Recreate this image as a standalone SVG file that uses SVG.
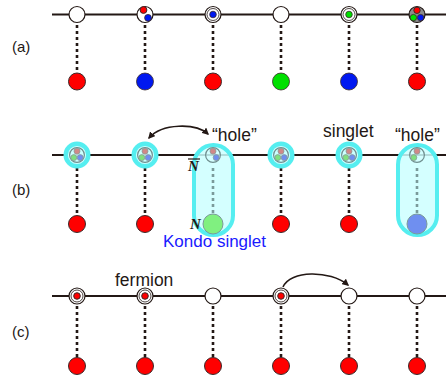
<svg xmlns="http://www.w3.org/2000/svg" width="446" height="378" viewBox="0 0 446 378">
<defs>
<style>
.ln{stroke:#231815;stroke-width:2;fill:none}
.dash{stroke:#231815;stroke-width:2.6;stroke-dasharray:3 3;fill:none}
.dashg{stroke:#7a9a9a;stroke-width:2.6;stroke-dasharray:3 3;fill:none}
.site{fill:#fff;stroke:#231815;stroke-width:1.2}
.ring{fill:none;stroke:#231815;stroke-width:0.8}
.red{fill:#f00;stroke:#3a2a2a;stroke-width:1}
.blue{fill:#0018f0;stroke:#3a2a2a;stroke-width:0.8}
.green{fill:#00e000;stroke:#3a2a2a;stroke-width:0.8}
.halo{fill:#ccffff;stroke:#55eef0;stroke-width:4.4}
.pill{fill:#ccffff;fill-opacity:0.85;stroke:#55eef0;stroke-width:4}
.gring{fill:none;stroke:#6f8f8f;stroke-width:1.2}
.pr{fill:#d08888;stroke:#8a9a9a;stroke-width:0.8}
.pg{fill:#80e080;stroke:#8a9a9a;stroke-width:0.8}
.pb{fill:#6f8ff0;stroke:#8a9a9a;stroke-width:0.8}
.t{font-family:"Liberation Sans","Noto Sans",sans-serif;font-size:15px;fill:#231815}
.lb{font-family:"Liberation Sans","Noto Sans",sans-serif;font-size:17.5px;fill:#231815}
.n{font-family:"Liberation Serif",serif;font-size:15px;font-weight:bold;font-style:italic;fill:#231815}
.arr{stroke:#231815;stroke-width:1.6;fill:none}
</style>
<marker id="ah" viewBox="0 0 10 10" refX="8" refY="5" markerWidth="7" markerHeight="7" orient="auto-start-reverse" markerUnits="userSpaceOnUse">
<path d="M0,0 L10,5 L0,10 z" fill="#231815"/>
</marker>
</defs>

<!-- row labels -->
<text class="t" x="12" y="52">(a)</text>
<text class="t" x="12" y="195">(b)</text>
<text class="t" x="12" y="337">(c)</text>

<!-- connectors -->
<g id="connectors">
<line class="ln" x1="52" y1="14.5" x2="446" y2="14.5"/>
<line class="ln" x1="52" y1="155" x2="446" y2="155"/>
<line class="ln" x1="52" y1="296" x2="446" y2="296"/>
<g>
<line class="dash" x1="77" y1="25" x2="77" y2="73"/>
<line class="dash" x1="145" y1="25" x2="145" y2="73"/>
<line class="dash" x1="213" y1="25" x2="213" y2="73"/>
<line class="dash" x1="281" y1="25" x2="281" y2="73"/>
<line class="dash" x1="349" y1="25" x2="349" y2="73"/>
<line class="dash" x1="417" y1="25" x2="417" y2="73"/>
</g>
<g>
<line class="dash" x1="77" y1="168" x2="77" y2="215"/>
<line class="dash" x1="145" y1="168" x2="145" y2="215"/>
<line class="dash" x1="281" y1="168" x2="281" y2="215"/>
<line class="dash" x1="349" y1="168" x2="349" y2="215"/>
</g>
<g>
<line class="dash" x1="77" y1="306" x2="77" y2="357"/>
<line class="dash" x1="145" y1="306" x2="145" y2="357"/>
<line class="dash" x1="213" y1="306" x2="213" y2="357"/>
<line class="dash" x1="281" y1="306" x2="281" y2="357"/>
<line class="dash" x1="349" y1="306" x2="349" y2="357"/>
<line class="dash" x1="417" y1="306" x2="417" y2="357"/>
</g>
</g>

<!-- row (a) -->
<g id="a1"><circle class="site" cx="77" cy="14.5" r="8"/><circle class="red" cx="77" cy="81.5" r="8.5"/></g>
<g id="a2"><circle class="site" cx="145" cy="14.5" r="8"/><circle class="red" cx="143.5" cy="10" r="3.4"/><circle class="blue" cx="148" cy="17.8" r="3.4"/><circle class="blue" cx="145" cy="81.5" r="8.5"/></g>
<g id="a3"><circle class="site" cx="213" cy="14.5" r="8"/><circle class="ring" cx="213" cy="14.5" r="6"/><circle class="blue" cx="213" cy="14.5" r="3.3"/><circle class="red" cx="213" cy="81.5" r="8.5"/></g>
<g id="a4"><circle class="site" cx="281" cy="14.5" r="8"/><circle class="green" cx="281" cy="81.5" r="8.5"/></g>
<g id="a5"><circle class="site" cx="349" cy="14.5" r="8"/><circle class="ring" cx="349" cy="14.5" r="6"/><circle class="green" cx="349" cy="14.5" r="3.3"/><circle class="blue" cx="349" cy="81.5" r="8.5"/></g>
<g id="a6"><circle cx="417" cy="14.5" r="8" fill="#8c8c8c" stroke="#231815" stroke-width="1.2"/><circle class="red" cx="417" cy="10.3" r="3.2"/><circle class="green" cx="413.4" cy="17.6" r="3.2"/><circle class="blue" cx="420.6" cy="17.6" r="3.2"/><circle class="red" cx="417" cy="81.5" r="8.5"/></g>

<!-- row (b) -->
<g id="b1"><circle class="halo" cx="77" cy="155" r="11.3"/><circle class="gring" cx="77" cy="155" r="7.4"/><circle class="pr" cx="77" cy="151.2" r="3"/><circle class="pg" cx="73.8" cy="157.6" r="3"/><circle class="pb" cx="80.2" cy="157.6" r="3"/><circle class="red" cx="77" cy="224" r="8.5"/></g>
<g id="b2"><circle class="halo" cx="145" cy="155" r="11.3"/><circle class="gring" cx="145" cy="155" r="7.4"/><circle class="pr" cx="145" cy="151.2" r="3"/><circle class="pg" cx="141.8" cy="157.6" r="3"/><circle class="pb" cx="148.2" cy="157.6" r="3"/><circle class="red" cx="145" cy="224" r="8.5"/></g>
<g id="b3">
<rect class="pill" x="194" y="145" width="39" height="90" rx="19.5"/>
<line class="dashg" x1="213" y1="168" x2="213" y2="213"/>
<circle class="gring" cx="213" cy="155" r="7.4"/><circle class="pr" cx="213" cy="151.2" r="3"/><circle class="pb" cx="216.2" cy="157.6" r="3"/>
<circle cx="213" cy="224" r="10" fill="#80f080" stroke="#7a9a9a" stroke-width="1"/>
<text class="n" x="188" y="171">N</text><line x1="188" y1="159" x2="200" y2="159" stroke="#231815" stroke-width="1.2"/>
<text class="n" x="190" y="229">N</text>
</g>
<g id="b4"><circle class="halo" cx="281" cy="155" r="11.3"/><circle class="gring" cx="281" cy="155" r="7.4"/><circle class="pr" cx="281" cy="151.2" r="3"/><circle class="pg" cx="277.8" cy="157.6" r="3"/><circle class="pb" cx="284.2" cy="157.6" r="3"/><circle class="red" cx="281" cy="224" r="8.5"/></g>
<g id="b5"><circle class="halo" cx="349" cy="155" r="11.3"/><circle class="gring" cx="349" cy="155" r="7.4"/><circle class="pr" cx="349" cy="151.2" r="3"/><circle class="pg" cx="345.8" cy="157.6" r="3"/><circle class="pb" cx="352.2" cy="157.6" r="3"/><circle class="red" cx="349" cy="224" r="8.5"/></g>
<g id="b6">
<rect class="pill" x="398" y="145" width="39" height="90" rx="19.5"/>
<line class="dashg" x1="417" y1="168" x2="417" y2="213"/>
<circle class="gring" cx="417" cy="155" r="7.4"/><circle class="pr" cx="417" cy="151.2" r="3"/><circle class="pg" cx="413.8" cy="157.6" r="3"/>
<circle cx="417" cy="224" r="10" fill="#6f8ff0" stroke="#7a9a9a" stroke-width="1"/>
</g>
<path class="arr" d="M208,134 C196,123 162,123 149,138" marker-start="url(#ah)" marker-end="url(#ah)"/>
<text class="lb" x="212" y="141">“hole”</text>
<text class="lb" x="323" y="137">singlet</text>
<text class="lb" x="395" y="141">“hole”</text>
<text x="163" y="247" font-family="Liberation Sans,Noto Sans,sans-serif" font-size="17" fill="#1a1aff">Kondo singlet</text>

<!-- row (c) -->
<g id="c1"><circle class="site" cx="77" cy="296" r="8"/><circle class="ring" cx="77" cy="296" r="6"/><circle class="red" cx="77" cy="296" r="3.3"/><circle class="red" cx="77" cy="366" r="8.5"/></g>
<g id="c2"><circle class="site" cx="145" cy="296" r="8"/><circle class="ring" cx="145" cy="296" r="6"/><circle class="red" cx="145" cy="296" r="3.3"/><circle class="red" cx="145" cy="366" r="8.5"/></g>
<g id="c3"><circle class="site" cx="213" cy="296" r="8"/><circle class="red" cx="213" cy="366" r="8.5"/></g>
<g id="c4"><circle class="site" cx="281" cy="296" r="8"/><circle class="ring" cx="281" cy="296" r="6"/><circle class="red" cx="281" cy="296" r="3.3"/><circle class="red" cx="281" cy="366" r="8.5"/></g>
<g id="c5"><circle class="site" cx="349" cy="296" r="8"/><circle class="red" cx="349" cy="366" r="8.5"/></g>
<g id="c6"><circle class="site" cx="417" cy="296" r="8"/><circle class="red" cx="417" cy="366" r="8.5"/></g>
<path class="arr" d="M283,287 C290,270 330,270 348,285" marker-end="url(#ah)"/>
<text class="lb" x="115" y="286">fermion</text>
</svg>
